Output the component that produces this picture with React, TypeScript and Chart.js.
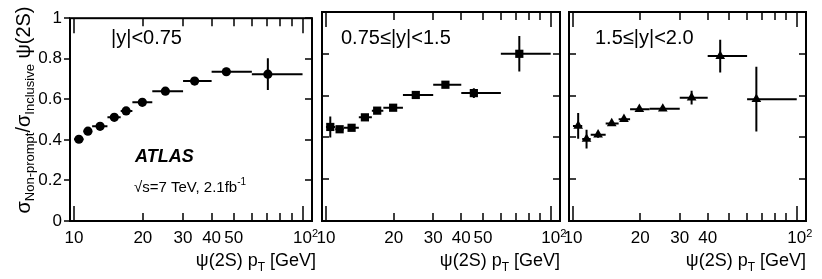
import React, { useEffect, useRef } from 'react';
import { Chart, registerables } from 'chart.js';

Chart.register(...registerables);

const FONT = '"Liberation Sans", Arial, Helvetica, sans-serif';

// pT bins (GeV)
const ptLow = [10, 11, 12, 14, 16, 18, 22, 30, 40, 60];
const ptHigh = [11, 12, 14, 16, 18, 22, 30, 40, 60, 100];

// mean pT of each bin, per rapidity slice
const ptMeanCentral = [10.5, 11.5, 13.0, 15.0, 16.9, 19.9, 25.1, 33.7, 46.4, 70.5];
const ptMeanMiddle = [10.45, 11.5, 13.0, 14.9, 16.9, 19.9, 25.1, 34.0, 45.5, 72.5];
const ptMeanForward = [10.55, 11.5, 12.95, 14.9, 16.9, 19.8, 25.2, 33.9, 45.5, 66.0];

// non-prompt fraction values and uncertainties
const fracCentral = [0.403, 0.443, 0.467, 0.511, 0.543, 0.585, 0.64, 0.69, 0.736, 0.724];
const errCentral = [0.01, 0.01, 0.01, 0.01, 0.012, 0.012, 0.012, 0.012, 0.02, 0.078];

const fracMiddle = [0.45, 0.439, 0.446, 0.496, 0.528, 0.542, 0.603, 0.652, 0.612, 0.8];
const errMiddle = [0.05, 0.015, 0.012, 0.012, 0.012, 0.012, 0.012, 0.012, 0.023, 0.085];

const fracForward = [0.455, 0.392, 0.413, 0.467, 0.487, 0.535, 0.537, 0.59, 0.789, 0.583];
const errForward = [0.062, 0.045, 0.015, 0.012, 0.012, 0.01, 0.01, 0.033, 0.078, 0.155];

// axes
const xTickValues = [10, 20, 30, 40, 50, 60, 70, 80, 90, 100];
const xLabelsWithFifty = [10, 20, 30, 40, 50, 100];
const xLabelsNoFifty = [10, 20, 30, 40, 100];
const yTickValues = [0, 0.2, 0.4, 0.6, 0.8, 1];
const X_MIN = 9.6;
const X_MAX = 110;

const rapidityLabels = ['|y|<0.75', '0.75\u2264|y|<1.5', '1.5\u2264|y|<2.0'];

const W = 822;
const H = 279;
const TOP = 12;
const BOTTOM = 221;

type Panel = {
  left: number;
  right: number;
  mean: number[];
  frac: number[];
  err: number[];
  style: string;
  radius: number;
  labels: number[];
  text: string;
  textX: number;
  titleRight: number;
  first: boolean;
};

const PANELS: Panel[] = [
  { left: 70, right: 312, mean: ptMeanCentral, frac: fracCentral, err: errCentral, style: 'circle', radius: 4.6, labels: xLabelsWithFifty, text: rapidityLabels[0], textX: 111, titleRight: 316, first: true },
  { left: 322, right: 560, mean: ptMeanMiddle, frac: fracMiddle, err: errMiddle, style: 'rect', radius: 5.8, labels: xLabelsWithFifty, text: rapidityLabels[1], textX: 341, titleRight: 560, first: false },
  { left: 569, right: 806, mean: ptMeanForward, frac: fracForward, err: errForward, style: 'triangle', radius: 5.6, labels: xLabelsNoFifty, text: rapidityLabels[2], textX: 595, titleRight: 806, first: false },
];

function drawSeq(ctx: CanvasRenderingContext2D, parts: { t: string; size: number; dy: number; style?: string }[], x: number, y: number, align: 'left' | 'right' | 'center') {
  const widths = parts.map((p) => {
    ctx.font = `${p.style || ''} ${p.size}px ${FONT}`;
    return ctx.measureText(p.t).width;
  });
  const total = widths.reduce((a, b) => a + b, 0);
  let cx = align === 'left' ? x : align === 'right' ? x - total : x - total / 2;
  ctx.textAlign = 'left';
  ctx.textBaseline = 'alphabetic';
  parts.forEach((p, i) => {
    ctx.font = `${p.style || ''} ${p.size}px ${FONT}`;
    ctx.fillText(p.t, cx, y + p.dy);
    cx += widths[i];
  });
}

function makePlugin(panel: Panel) {
  return {
    id: 'physicsDecor',
    beforeDatasetsDraw(chart: any) {
      const ctx = chart.ctx as CanvasRenderingContext2D;
      const xs = chart.scales.x;
      const ys = chart.scales.y;
      ctx.save();
      ctx.strokeStyle = '#000';
      ctx.lineWidth = 2;
      ctx.lineCap = 'butt';
      panel.mean.forEach((m, i) => {
        const py = ys.getPixelForValue(panel.frac[i]);
        const px = xs.getPixelForValue(m);
        ctx.beginPath();
        ctx.moveTo(xs.getPixelForValue(ptLow[i]), py);
        ctx.lineTo(xs.getPixelForValue(ptHigh[i]), py);
        ctx.moveTo(px, ys.getPixelForValue(panel.frac[i] - panel.err[i]));
        ctx.lineTo(px, ys.getPixelForValue(panel.frac[i] + panel.err[i]));
        ctx.stroke();
      });
      ctx.restore();
    },
    afterDraw(chart: any) {
      const ctx = chart.ctx as CanvasRenderingContext2D;
      const xs = chart.scales.x;
      const ys = chart.scales.y;
      const a = chart.chartArea;
      ctx.save();
      ctx.strokeStyle = '#000';
      ctx.fillStyle = '#000';
      // ticks
      ctx.lineWidth = 1.5;
      ctx.beginPath();
      xTickValues.forEach((v) => {
        const px = Math.round(xs.getPixelForValue(v));
        const len = v === 10 || v === 100 ? 15 : 8;
        ctx.moveTo(px, a.bottom);
        ctx.lineTo(px, a.bottom - len);
        ctx.moveTo(px, a.top);
        ctx.lineTo(px, a.top + len);
      });
      yTickValues.forEach((v) => {
        const py = Math.round(ys.getPixelForValue(v));
        if (panel.first) {
          ctx.moveTo(a.left - 6, py);
          ctx.lineTo(a.left, py);
        } else {
          ctx.moveTo(a.left, py);
          ctx.lineTo(a.left + 7, py);
        }
        ctx.moveTo(a.right, py);
        ctx.lineTo(a.right - 7, py);
      });
      ctx.stroke();
      // frame
      ctx.lineWidth = 2;
      ctx.strokeRect(a.left, a.top, a.right - a.left, a.bottom - a.top);

      // exponent for 10^2 label
      ctx.font = `11px ${FONT}`;
      ctx.textAlign = 'left';
      ctx.textBaseline = 'alphabetic';
      const p100 = xs.getPixelForValue(100);
      ctx.font = `17px ${FONT}`;
      const w10 = ctx.measureText('10').width;
      ctx.font = `11px ${FONT}`;
      ctx.fillText('2', p100 + w10 / 2, 237);

      // rapidity label
      ctx.font = `20px ${FONT}`;
      ctx.fillText(panel.text, panel.textX, 44);

      // x title
      drawSeq(ctx, [
        { t: '\u03c8(2S) p', size: 18, dy: 0 },
        { t: 'T', size: 12, dy: 5 },
        { t: ' [GeV]', size: 18, dy: 0 },
      ], panel.titleRight, 266, 'right');

      if (panel.first) {
        // ATLAS label
        drawSeq(ctx, [{ t: 'ATLAS', size: 18, dy: 0, style: 'italic bold' }], 135, 162, 'left');
        drawSeq(ctx, [
          { t: '\u221as=7 TeV, 2.1fb', size: 15, dy: 0 },
          { t: '-1', size: 10, dy: -7 },
        ], 134, 192, 'left');

        // y title (rotated)
        ctx.save();
        ctx.translate(30, 110);
        ctx.rotate(-Math.PI / 2);
        drawSeq(ctx, [
          { t: '\u03c3', size: 20, dy: 0 },
          { t: 'Non-prompt', size: 13, dy: 4 },
          { t: '/', size: 20, dy: 0 },
          { t: '\u03c3', size: 20, dy: 0 },
          { t: 'Inclusive', size: 13, dy: 4 },
          { t: ' \u03c8(2S)', size: 20, dy: 0 },
        ], 0, 0, 'center');
        ctx.restore();
      }
      ctx.restore();
    },
  };
}

function PanelChart({ panel }: { panel: Panel }) {
  const ref = useRef<HTMLCanvasElement | null>(null);
  useEffect(() => {
    if (!ref.current) return;
    const yW = panel.first ? panel.left : 0;
    const chart = new Chart(ref.current, {
      type: 'scatter',
      data: {
        datasets: [
          {
            data: panel.mean.map((m, i) => ({ x: m, y: panel.frac[i] })),
            pointStyle: panel.style as any,
            pointRadius: panel.radius,
            backgroundColor: '#000',
            borderColor: '#000',
            borderWidth: 0,
          },
        ],
      },
      options: {
        responsive: false,
        animation: false,
        events: [],
        layout: { padding: { left: panel.left - yW, right: W - panel.right, top: TOP, bottom: 0 } },
        plugins: { legend: { display: false }, tooltip: { enabled: false } },
        scales: {
          x: {
            type: 'logarithmic',
            min: X_MIN,
            max: X_MAX,
            afterBuildTicks: (s: any) => {
              s.ticks = xTickValues.map((v) => ({ value: v }));
            },
            afterFit: (s: any) => {
              s.height = H - BOTTOM;
            },
            grid: { display: false, drawTicks: false },
            border: { display: false },
            ticks: {
              autoSkip: false,
              maxRotation: 0,
              minRotation: 0,
              padding: 7,
              color: '#000',
              font: { family: FONT, size: 17 },
              callback: (v: any) => (panel.labels.includes(Number(v)) ? (Number(v) === 100 ? '10' : String(v)) : ''),
            },
          },
          y: {
            display: panel.first,
            min: 0,
            max: 1,
            afterBuildTicks: (s: any) => {
              s.ticks = yTickValues.map((v) => ({ value: v }));
            },
            afterFit: (s: any) => {
              s.width = yW;
            },
            grid: { display: false, drawTicks: false },
            border: { display: false },
            ticks: {
              padding: 8,
              color: '#000',
              font: { family: FONT, size: 17 },
              callback: (v: any) => {
                const n = Number(v);
                if (Math.abs(n) < 1e-9) return '0';
                if (Math.abs(n - 1) < 1e-9) return '1';
                return n.toFixed(1);
              },
            },
          },
        },
      } as any,
      plugins: [makePlugin(panel)],
    });
    return () => chart.destroy();
  }, [panel]);
  return (
    <canvas
      ref={ref}
      width={W}
      height={H}
      style={{ position: 'absolute', left: 0, top: 0, width: W, height: H, display: 'block' }}
    />
  );
}

export default function App() {
  return (
    <div style={{ position: 'fixed', left: 0, top: 0, width: W, height: H, background: '#fff', overflow: 'hidden' }}>
      {PANELS.map((p, i) => (
        <PanelChart key={i} panel={p} />
      ))}
    </div>
  );
}
